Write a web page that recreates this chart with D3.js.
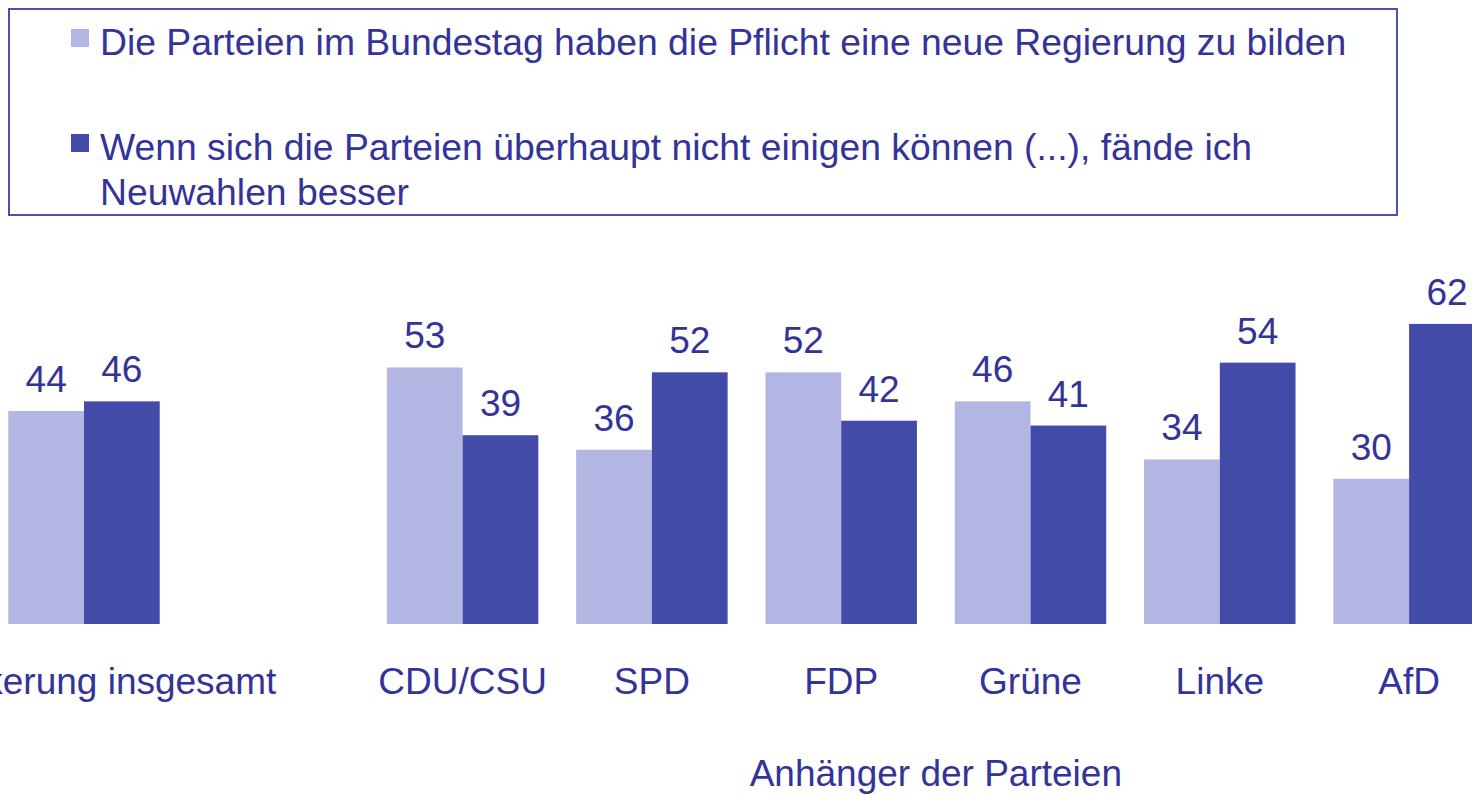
<!DOCTYPE html>
<html>
<head>
<meta charset="utf-8">
<script src="https://cdn.jsdelivr.net/npm/d3@7"></script>
<style>
  body { margin: 0; background: #fff; overflow: hidden; }
  svg { display: block; font-family: "Liberation Sans", Arial, sans-serif; }
</style>
</head>
<body>
<svg id="chart"></svg>
<script>
// data
const categories = ["Bevölkerung insgesamt", "CDU/CSU", "SPD", "FDP", "Grüne", "Linke", "AfD"];
const seriesNames = [
  "Die Parteien im Bundestag haben die Pflicht eine neue Regierung zu bilden",
  "Wenn sich die Parteien überhaupt nicht einigen können (...), fände ich Neuwahlen besser"
];
const pflicht = [44, 53, 36, 52, 46, 34, 30];
const neuwahlen = [46, 39, 52, 42, 41, 54, 62];
const groupTitle = "Anhänger der Parteien";

const colors = ["#b3b5e3", "#434ba8"];
const textColor = "#333399";

const W = 1472, H = 795;
const svg = d3.select("#chart").attr("width", W).attr("height", H);

// one blank slot between "insgesamt" and the parties
const domain = [categories[0], "__gap", ...categories.slice(1)];

const x0 = d3.scaleBand()
  .domain(domain)
  .range([-10.65, 1503.75])
  .paddingInner(0.2)
  .paddingOuter(0.1);

const x1 = d3.scaleBand()
  .domain([0, 1])
  .range([0, x0.bandwidth()]);

const y = d3.scaleLinear()
  .domain([0, 100])
  .range([624, 140]);

const data = categories.map((c, i) => ({cat: c, values: [pflicht[i], neuwahlen[i]]}));

// bars
const groups = svg.append("g")
  .selectAll("g")
  .data(data)
  .join("g")
  .attr("transform", d => `translate(${x0(d.cat)},0)`);

groups.selectAll("rect")
  .data(d => d.values.map((v, k) => ({k, v})))
  .join("rect")
  .attr("x", d => x1(d.k))
  .attr("y", d => y(d.v))
  .attr("width", x1.bandwidth())
  .attr("height", d => y(0) - y(d.v))
  .attr("fill", d => colors[d.k]);

groups.selectAll("text")
  .data(d => d.values.map((v, k) => ({k, v})))
  .join("text")
  .attr("x", d => x1(d.k) + x1.bandwidth() / 2)
  .attr("y", d => y(d.v) - 19)
  .attr("text-anchor", "middle")
  .attr("font-size", 37)
  .attr("fill", textColor)
  .text(d => d.v);

// category axis
const axis = svg.append("g")
  .attr("transform", `translate(0,${y(0)})`)
  .call(d3.axisBottom(x0).tickSize(0).tickPadding(0).tickFormat(d => d === "__gap" ? "" : d));
axis.select(".domain").remove();
axis.selectAll("text")
  .attr("dy", null)
  .attr("y", 70)
  .attr("font-size", 37)
  .attr("font-family", "Liberation Sans, Arial, sans-serif")
  .attr("fill", textColor);

// group title under the party groups
const first = x0(categories[1]), last = x0(categories[categories.length - 1]) + x0.bandwidth();
svg.append("text")
  .attr("x", (first + last) / 2)
  .attr("y", 786)
  .attr("text-anchor", "middle")
  .attr("font-size", 37)
  .attr("fill", textColor)
  .text(groupTitle);

// legend
const legend = svg.append("g");
legend.append("rect")
  .attr("x", 9).attr("y", 9)
  .attr("width", 1388).attr("height", 206)
  .attr("fill", "none")
  .attr("stroke", "#4a4fb0")
  .attr("stroke-width", 2);

const legendLines = [[seriesNames[0]], ["Wenn sich die Parteien überhaupt nicht einigen können (...), fände ich", "Neuwahlen besser"]];
const legendY = [55, 160];

legendLines.forEach((lines, i) => {
  legend.append("rect")
    .attr("x", 71).attr("y", legendY[i] - 26)
    .attr("width", 18).attr("height", 18)
    .attr("fill", colors[i]);
  const t = legend.append("text")
    .attr("x", 100).attr("y", legendY[i])
    .attr("font-size", 37.3)
    .attr("fill", textColor);
  lines.forEach((l, j) => {
    t.append("tspan").attr("x", 100).attr("dy", j === 0 ? 0 : 45).text(l);
  });
});
</script>
</body>
</html>
